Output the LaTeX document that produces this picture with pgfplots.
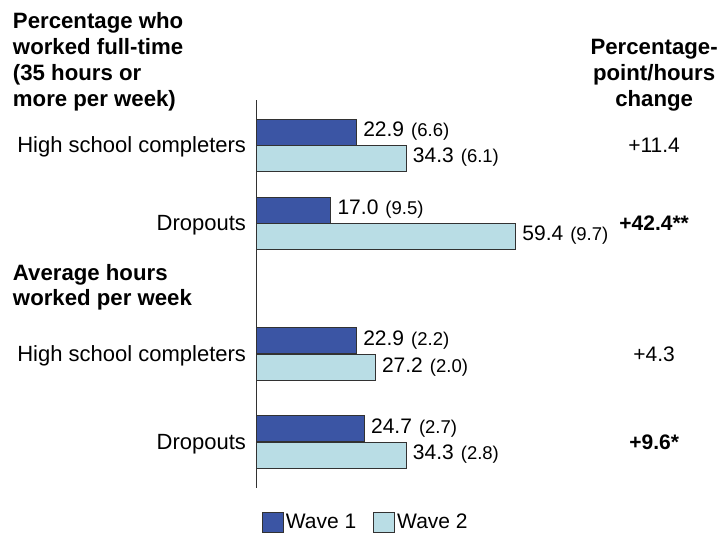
\documentclass[border=0pt]{standalone}
\usepackage{pgfplots}
\pgfplotsset{compat=1.18}
\usepackage{pgfplotstable}
\usepackage{fontspec}
\setmainfont{Liberation Sans}

\definecolor{waveone}{RGB}{59,85,164}
\definecolor{wavetwo}{RGB}{185,221,229}
\definecolor{edge}{RGB}{50,50,50}

\newcommand\valfont{\fontsize{21}{25}\selectfont}
\newcommand\labfont{\fontsize{22}{26}\selectfont}
\newcommand\sefont{\fontsize{18.5}{22}\selectfont}
\newcommand\headfont{\fontsize{22.2}{26}\selectfont\bfseries}

% value, bar centre (vertical position), standard error
\pgfplotstableread{
v    y      se
22.9 132.0  6.6
17.0 210.3  9.5
22.9 340.8  2.2
24.7 428.7  2.7
}\wavefirst
\pgfplotstableread{
v    y      se
34.3 158.0  6.1
59.4 236.5  9.7
27.2 367.7  2.0
34.3 455.5  2.8
}\wavesecond

\begin{document}
\begin{tikzpicture}[txt/.style={inner sep=0pt, outer sep=0pt}]
\begin{axis}[
  scale only axis, width=720pt, height=533pt,
  xmin=-58.83, xmax=106.31, ymin=0, ymax=533, y dir=reverse,
  axis lines=none, clip=false,
  xbar, bar shift=0pt, bar width=26,
  point meta=explicit symbolic,
  visualization depends on={rawx \as \xval},
  nodes near coords={\pgfmathprintnumber[fixed,fixed zerofill,precision=1,assume math mode=true]{\xval}\hspace{7pt}{\sefont(\pgfplotspointmeta)}},
  every node near coord/.append style={font=\valfont, anchor=west, inner sep=0pt, xshift=6.5pt, yshift=1pt, text=black},
  legend style={at={(axis cs:1.26,522)}, anchor=west, draw=none, fill=none,
    legend columns=2, inner sep=0pt, outer sep=0pt, font=\valfont,
    /tikz/every even column/.append style={column sep=15pt}},
  legend image code/.code={\draw[#1,/tikz/.cd] (0pt,-10pt) rectangle (21pt,10pt);},
]
\path (rel axis cs:0,0) rectangle (rel axis cs:1,1);

\addplot[fill=waveone, draw=edge, line width=0.9pt]
  table[x=v, y=y, meta=se] {\wavefirst};
\addlegendentry{Wave 1}
\addplot[fill=wavetwo, draw=edge, line width=0.9pt]
  table[x=v, y=y, meta=se] {\wavesecond};
\addlegendentry{Wave 2}

% vertical baseline of the bars
\draw[edge, line width=1.3pt] (axis cs:0,100) -- (axis cs:0,488);

% section headings
\node[txt, anchor=base west, font=\headfont] at (axis cs:-55.85,28.7) {Percentage who};
\node[txt, anchor=base west, font=\headfont] at (axis cs:-55.85,54.7) {worked full-time};
\node[txt, anchor=base west, font=\headfont] at (axis cs:-55.85,80.7) {(35 hours or};
\node[txt, anchor=base west, font=\headfont] at (axis cs:-55.85,106.7) {more per week)};
\node[txt, anchor=base west, font=\headfont] at (axis cs:-55.85,280.3) {Average hours};
\node[txt, anchor=base west, font=\headfont] at (axis cs:-55.85,305.3) {worked per week};

% group labels
\node[txt, anchor=base east, font=\labfont] at (axis cs:-2.41,152) {High school completers};
\node[txt, anchor=base east, font=\labfont] at (axis cs:-2.41,230) {Dropouts};
\node[txt, anchor=base east, font=\labfont] at (axis cs:-2.41,361) {High school completers};
\node[txt, anchor=base east, font=\labfont] at (axis cs:-2.41,449) {Dropouts};

% change column
\node[txt, anchor=base, font=\headfont] at (axis cs:91.2,54.7) {Percentage-};
\node[txt, anchor=base, font=\headfont] at (axis cs:91.2,80.7) {point/hours};
\node[txt, anchor=base, font=\headfont] at (axis cs:91.2,106.7) {change};
\node[txt, anchor=base, font=\valfont] at (axis cs:91.2,152.5) {+11.4};
\node[txt, anchor=base, font=\valfont\bfseries] at (axis cs:91.2,230.5) {+42.4**};
\node[txt, anchor=base, font=\valfont] at (axis cs:91.2,361) {+4.3};
\node[txt, anchor=base, font=\valfont\bfseries] at (axis cs:91.2,449.5) {+9.6*};
\end{axis}
\end{tikzpicture}
\end{document}
